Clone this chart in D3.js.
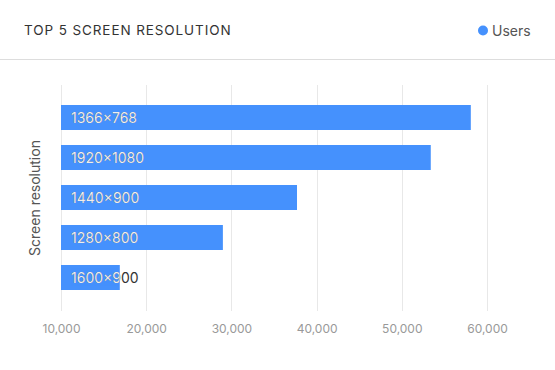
<!DOCTYPE html>
<html>
<head>
<meta charset="utf-8">
<script src="https://cdn.jsdelivr.net/npm/d3@7"></script>
<style>
  body { margin: 0; background: #fff; }
  svg { font-family: Inter, "Noto Sans", sans-serif; }
</style>
</head>
<body>
<svg></svg>
<script>
// top 5 screen resolutions, horizontal bars
var resolutions = ["1366×768", "1920×1080", "1440×900", "1280×800", "1600×900"];
var users = [58100, 53400, 37700, 29000, 16900];
var xTicks = [10000, 20000, 30000, 40000, 50000, 60000];

var svgWidth = 555, svgHeight = 370;
var barColor = "#4591fd";

var svg = d3.select("svg")
    .attr("width", svgWidth)
    .attr("height", svgHeight);

// header
svg.append("text")
    .attr("x", 24).attr("y", 35)
    .attr("font-size", 13.5)
    .attr("letter-spacing", 0.9)
    .attr("fill", "#333")
    .text("TOP 5 SCREEN RESOLUTION");

svg.append("circle")
    .attr("cx", 483).attr("cy", 30.5).attr("r", 5)
    .attr("fill", barColor);
svg.append("text")
    .attr("x", 492).attr("y", 36)
    .attr("font-size", 14)
    .attr("fill", "#555")
    .text("Users");

svg.append("line")
    .attr("x1", 0).attr("x2", svgWidth)
    .attr("y1", 59.5).attr("y2", 59.5)
    .attr("stroke", "#ddd");

var xScale = d3.scaleLinear()
    .domain([10000, 60000])
    .range([61, 487]);

var yScale = d3.scaleBand()
    .domain(resolutions)
    .range([97.5, 297.5])
    .paddingInner(0.375)
    .paddingOuter(0.1875);

// grid
svg.selectAll("line.grid")
    .data(xTicks)
    .enter()
    .append("line")
    .attr("class", "grid")
    .attr("x1", function(d) { return Math.round(xScale(d)) + 0.5; })
    .attr("x2", function(d) { return Math.round(xScale(d)) + 0.5; })
    .attr("y1", 85).attr("y2", 311)
    .attr("stroke", "#e8e8e8");

// x axis labels
var xAxis = d3.axisBottom(xScale)
    .tickValues(xTicks)
    .tickFormat(d3.format(","))
    .tickSize(0)
    .tickPadding(0);

var gx = svg.append("g")
    .attr("transform", "translate(0,324)")
    .call(xAxis);
gx.select(".domain").remove();
gx.selectAll("text")
    .attr("font-family", "Inter, 'Noto Sans', sans-serif")
    .attr("font-size", 12)
    .attr("fill", "#999");

// y axis title
svg.append("text")
    .attr("transform", "translate(40,198) rotate(-90)")
    .attr("text-anchor", "middle")
    .attr("font-size", 14)
    .attr("fill", "#555")
    .text("Screen resolution");

// bars
var defs = svg.append("defs");
resolutions.forEach(function(r, i) {
    defs.append("clipPath")
        .attr("id", "clip" + i)
        .append("rect")
        .attr("x", xScale(10000))
        .attr("y", yScale(r))
        .attr("width", xScale(users[i]) - xScale(10000))
        .attr("height", yScale.bandwidth());
});

svg.selectAll("rect.bar")
    .data(users)
    .enter()
    .append("rect")
    .attr("class", "bar")
    .attr("x", xScale(10000))
    .attr("y", function(d, i) { return yScale(resolutions[i]); })
    .attr("width", function(d) { return xScale(d) - xScale(10000); })
    .attr("height", yScale.bandwidth())
    .attr("fill", barColor);

// labels: dark copy underneath, white copy clipped to the bar
["#333", "#fff"].forEach(function(col, k) {
    svg.selectAll("text.lab" + k)
        .data(resolutions)
        .enter()
        .append("text")
        .attr("class", "lab" + k)
        .attr("x", 71)
        .attr("y", function(d) { return yScale(d) + yScale.bandwidth() / 2 + 5; })
        .attr("font-size", 14)
        .attr("fill", col)
        .attr("opacity", k ? 0.92 : 1)
        .attr("clip-path", function(d, i) { return k ? "url(#clip" + i + ")" : null; })
        .text(function(d) { return d; });
});
</script>
</body>
</html>
